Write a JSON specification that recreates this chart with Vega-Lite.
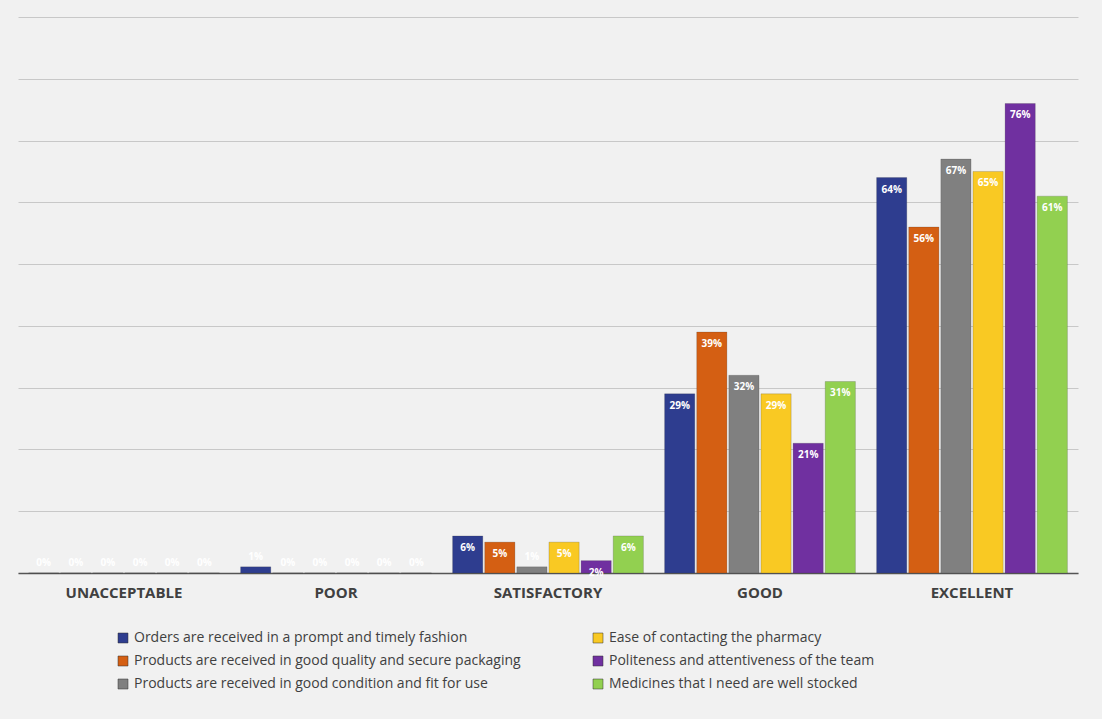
{
  "$schema": "https://vega.github.io/schema/vega-lite/v6.json",
  "width": 1060,
  "height": 556,
  "autosize": {"type": "pad"},
  "padding": {"left": 18, "top": 17, "right": 24, "bottom": 30},
  "background": "#f1f1f1",
  "config": {"view": {"stroke": null}, "font": "Open Sans"},
  "data": {"values": [
    {"cat":"UNACCEPTABLE","s":"Orders are received in a prompt and timely fashion","v":0},
    {"cat":"UNACCEPTABLE","s":"Products are received in good quality and secure packaging","v":0},
    {"cat":"UNACCEPTABLE","s":"Products are received in good condition and fit for use","v":0},
    {"cat":"UNACCEPTABLE","s":"Ease of contacting the pharmacy","v":0},
    {"cat":"UNACCEPTABLE","s":"Politeness and attentiveness of the team","v":0},
    {"cat":"UNACCEPTABLE","s":"Medicines that I need are well stocked","v":0},
    {"cat":"POOR","s":"Orders are received in a prompt and timely fashion","v":0.01},
    {"cat":"POOR","s":"Products are received in good quality and secure packaging","v":0},
    {"cat":"POOR","s":"Products are received in good condition and fit for use","v":0},
    {"cat":"POOR","s":"Ease of contacting the pharmacy","v":0},
    {"cat":"POOR","s":"Politeness and attentiveness of the team","v":0},
    {"cat":"POOR","s":"Medicines that I need are well stocked","v":0},
    {"cat":"SATISFACTORY","s":"Orders are received in a prompt and timely fashion","v":0.06},
    {"cat":"SATISFACTORY","s":"Products are received in good quality and secure packaging","v":0.05},
    {"cat":"SATISFACTORY","s":"Products are received in good condition and fit for use","v":0.01},
    {"cat":"SATISFACTORY","s":"Ease of contacting the pharmacy","v":0.05},
    {"cat":"SATISFACTORY","s":"Politeness and attentiveness of the team","v":0.02},
    {"cat":"SATISFACTORY","s":"Medicines that I need are well stocked","v":0.06},
    {"cat":"GOOD","s":"Orders are received in a prompt and timely fashion","v":0.29},
    {"cat":"GOOD","s":"Products are received in good quality and secure packaging","v":0.39},
    {"cat":"GOOD","s":"Products are received in good condition and fit for use","v":0.32},
    {"cat":"GOOD","s":"Ease of contacting the pharmacy","v":0.29},
    {"cat":"GOOD","s":"Politeness and attentiveness of the team","v":0.21},
    {"cat":"GOOD","s":"Medicines that I need are well stocked","v":0.31},
    {"cat":"EXCELLENT","s":"Orders are received in a prompt and timely fashion","v":0.64},
    {"cat":"EXCELLENT","s":"Products are received in good quality and secure packaging","v":0.56},
    {"cat":"EXCELLENT","s":"Products are received in good condition and fit for use","v":0.67},
    {"cat":"EXCELLENT","s":"Ease of contacting the pharmacy","v":0.65},
    {"cat":"EXCELLENT","s":"Politeness and attentiveness of the team","v":0.76},
    {"cat":"EXCELLENT","s":"Medicines that I need are well stocked","v":0.61}
  ]},
  "encoding": {
    "x": {"field": "cat", "type": "nominal", "sort": null, "title": null,
      "scale": {"paddingInner": 0.1, "paddingOuter": 0.05},
      "axis": {"labelAngle": 0, "labelFontWeight": "bold", "labelFontSize": 15, "labelColor": "#404040", "ticks": false, "domainColor": "#555555", "domainWidth": 1.5, "labelPadding": 12}},
    "xOffset": {"field": "s", "type": "nominal", "sort": null, "scale": {"paddingInner": 0.06}},
    "y": {"field": "v", "type": "quantitative", "title": null,
      "scale": {"domain": [0, 0.9]},
      "axis": {"labels": false, "ticks": false, "domain": false, "tickCount": 9, "gridColor": "#c8c8c8"}}
  },
  "layer": [
    {"mark": {"type": "bar", "stroke": "#333333", "strokeWidth": 0.5, "strokeOpacity": 0.4},
     "encoding": {
       "color": {"field": "s", "type": "nominal", "sort": null, "title": null,
         "scale": {"range": ["#2e3d8f", "#d45f13", "#808080", "#f9c923", "#7030a0", "#92d050"]},
         "legend": {"orient": "none", "legendX": 98, "legendY": 614, "columns": 2, "symbolType": "square", "symbolSize": 100, "symbolStrokeColor": "#333", "symbolStrokeWidth": 0.5, "labelFontSize": 14, "labelColor": "#404040", "labelLimit": 500, "columnPadding": 70, "rowPadding": 9}}
     }},
    {"transform": [{"filter": "datum.v > 0.015"}],
     "mark": {"type": "text", "dy": 12, "color": "white", "fontWeight": "bold", "fontSize": 10},
     "encoding": {"text": {"field": "v", "type": "quantitative", "format": ".0%"}}},
    {"transform": [{"filter": "datum.v <= 0.015"}],
     "mark": {"type": "text", "dy": -10, "color": "white", "fontWeight": "bold", "fontSize": 10},
     "encoding": {"text": {"field": "v", "type": "quantitative", "format": ".0%"}}}
  ]
}
